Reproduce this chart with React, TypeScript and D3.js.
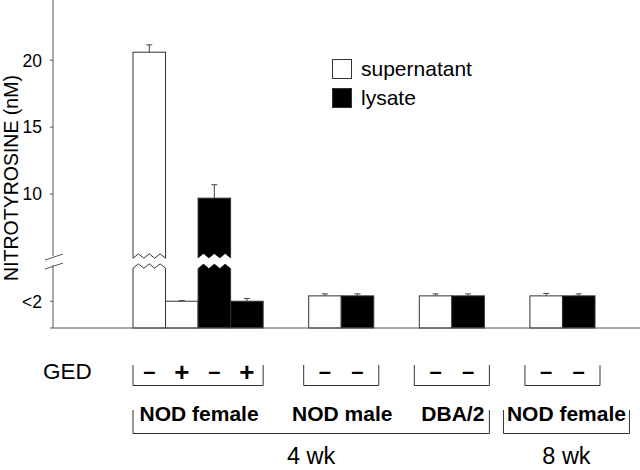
import React from "react";
import * as d3 from "d3";

// ---- data ----
const groups = ["NOD female", "NOD male", "DBA/2", "NOD female"];
const timepoints = ["4 wk", "8 wk"];
const timepointGroups = [[0, 1, 2], [3]];
const barGroup = [0, 0, 0, 0, 1, 1, 2, 2, 3, 3];
const barSeries = ["supernatant", "supernatant", "lysate", "lysate", "supernatant", "lysate", "supernatant", "lysate", "supernatant", "lysate"];
const barValues = [20.6, 2.0, 9.7, 2.0, 2.4, 2.4, 2.4, 2.4, 2.4, 2.4];
const barErrors = [0.55, 0.05, 1.0, 0.2, 0.15, 0.15, 0.15, 0.15, 0.18, 0.15];
const gedSigns = ["–", "+", "–", "+", "–", "–", "–", "–", "–", "–"];
const brokenBars = [0, 2];
const yTickValues = [2, 10, 15, 20];
const yTickLabels = ["<2", "10", "15", "20"];
const seriesNames = ["supernatant", "lysate"];
const breakValue = 5;

const W = 640;
const H = 470;
const FONT = "'Liberation Sans', Arial, Helvetica, sans-serif";

export default function App() {
  const y = d3.scaleLinear().domain([0, 24.5]).range([328, 0]);
  const groupGap = 1.4;
  const slotStart: number[] = [];
  let s = 0;
  barGroup.forEach((g, i) => {
    if (i > 0 && g !== barGroup[i - 1]) s += groupGap;
    slotStart.push(s);
    s += 1;
  });
  const x = d3.scaleLinear().domain([0, s]).range([133, 595]);
  const bw = x(1) - x(0);
  const color = d3.scaleOrdinal<string, string>().domain(seriesNames).range(["#ffffff", "#000000"]);

  const groupExtent = groups.map((_, gi) => {
    const idx = barGroup.map((g, i) => (g === gi ? i : -1)).filter((i) => i >= 0);
    return [x(slotStart[idx[0]]), x(slotStart[idx[idx.length - 1]] + 1), idx.length];
  });
  const groupPad = (n: number) => (n === 4 ? 0 : 5);
  const labelX = (gi: number) => (groupExtent[gi][0] + groupExtent[gi][1]) / 2 + (gi === 3 ? 4 : 1);
  const labelHalf = (gi: number) => (groups[gi].length * 12) / 2;

  const yb = y(breakValue);
  const zig = (x0: number, x1: number, yc: number, amp: number, n: number) => {
    const pts: [number, number][] = [];
    for (let i = 0; i <= 2 * n; i++) {
      pts.push([x0 + (i * (x1 - x0)) / (2 * n), yc + (i % 2 === 0 ? amp : -amp)]);
    }
    return pts;
  };
  const line = d3.line();

  const axisX = 53;
  const stroke = "#333";

  return (
    <svg width={W} height={H} style={{ position: "absolute", left: 0, top: 0, background: "#fff" }} fontFamily={FONT}>
      <rect x={0} y={0} width={W} height={H} fill="#fff" />
      {barValues.map((v, i) => {
        const x0 = x(slotStart[i]);
        const top = y(v);
        const fill = color(barSeries[i]);
        const cx = x0 + bw / 2;
        const et = y(v + barErrors[i]);
        return (
          <g key={i}>
            <rect x={x0} y={top} width={bw} height={y(0) - top} fill={fill} stroke={stroke} strokeWidth={1} />
            <line x1={cx} x2={cx} y1={top} y2={et} stroke="#444" strokeWidth={1} />
            <line x1={cx - 3} x2={cx + 3} y1={et} y2={et} stroke="#444" strokeWidth={1} />
          </g>
        );
      })}
      {brokenBars.map((i) => {
        const x0 = x(slotStart[i]);
        const x1 = x0 + bw;
        const up = zig(x0, x1, yb - 5, 2.2, 3);
        const lo = zig(x0, x1, yb + 5, 2.2, 3);
        const white = barSeries[i] === "supernatant";
        const poly: [number, number][] = [
          [x0 - 1.5, up[0][1]],
          ...up,
          [x1 + 1.5, up[up.length - 1][1]],
          [x1 + 1.5, lo[lo.length - 1][1]],
          ...lo.slice().reverse(),
          [x0 - 1.5, lo[0][1]],
        ];
        return (
          <g key={"b" + i}>
            <path d={line(poly) + "Z"} fill="#fff" stroke="none" />
            {white && <path d={line(up) || ""} fill="none" stroke={stroke} strokeWidth={1} />}
            {white && <path d={line(lo) || ""} fill="none" stroke={stroke} strokeWidth={1} />}
          </g>
        );
      })}
      {/* axes */}
      <line x1={axisX} x2={axisX} y1={0} y2={y(0)} stroke="#555" strokeWidth={1} />
      <line x1={50} x2={W} y1={y(0)} y2={y(0)} stroke="#555" strokeWidth={1} />
      <rect x={axisX - 2} y={yb - 5} width={4} height={9} fill="#fff" />
      <line x1={45} x2={63} y1={yb - 1} y2={yb - 7} stroke="#555" strokeWidth={1} />
      <line x1={45} x2={63} y1={yb + 8} y2={yb + 2} stroke="#555" strokeWidth={1} />
      {yTickValues.map((t, i) => (
        <g key={"t" + i}>
          <line x1={axisX - 3} x2={axisX} y1={y(t)} y2={y(t)} stroke="#555" />
          <text x={42} y={y(t)} dy="0.36em" textAnchor="end" fontSize={17.5} fill="#000">
            {yTickLabels[i]}
          </text>
        </g>
      ))}
      <text transform={`translate(18, 178) rotate(-90)`} textAnchor="middle" fontSize={19.5} fill="#000">
        NITROTYROSINE (nM)
      </text>
      {seriesNames.map((n, i) => (
        <g key={"l" + i}>
          <rect x={332.5} y={59.5 + i * 29} width={19} height={19} fill={color(n)} stroke={stroke} />
          <text x={361} y={76 + i * 29} fontSize={21} fill="#000">
            {n}
          </text>
        </g>
      ))}
      <text x={43} y={379} fontSize={22.5} fill="#000">GED</text>
      {gedSigns.map((sg, i) => (
        <text
          key={"s" + i}
          x={x(slotStart[i]) + bw / 2}
          y={sg === "+" ? 381 : 379}
          textAnchor="middle"
          fontSize={sg === "+" ? 26 : 22}
          fontWeight="bold"
          fill="#000"
        >
          {sg}
        </text>
      ))}
      {groupExtent.map(([a, b, n], gi) => {
        const pad = groupPad(n);
        return <path key={"gb" + gi} d={`M${a - pad},365V385.5H${b + pad}V365`} fill="none" stroke="#333" strokeWidth={1} />;
      })}
      {groups.map((g, gi) => (
        <text key={"g" + gi} x={labelX(gi)} y={421} textAnchor="middle" fontSize={21} fontWeight="bold" fill="#000">
          {g}
        </text>
      ))}
      {timepoints.map((tp, ti) => {
        const gs = timepointGroups[ti];
        const g0 = gs[0];
        const g1 = gs[gs.length - 1];
        const a = Math.min(groupExtent[g0][0] - groupPad(groupExtent[g0][2]), labelX(g0) - labelHalf(g0) - 3);
        const b = Math.max(groupExtent[g1][1] + groupPad(groupExtent[g1][2]), labelX(g1) + labelHalf(g1) + 3);
        return (
          <g key={"tp" + ti}>
            <path d={`M${a},410V433.5H${b}V410`} fill="none" stroke="#333" strokeWidth={1} />
            <text x={(a + b) / 2} y={464} textAnchor="middle" fontSize={23.5} fill="#000">
              {tp}
            </text>
          </g>
        );
      })}
    </svg>
  );
}
